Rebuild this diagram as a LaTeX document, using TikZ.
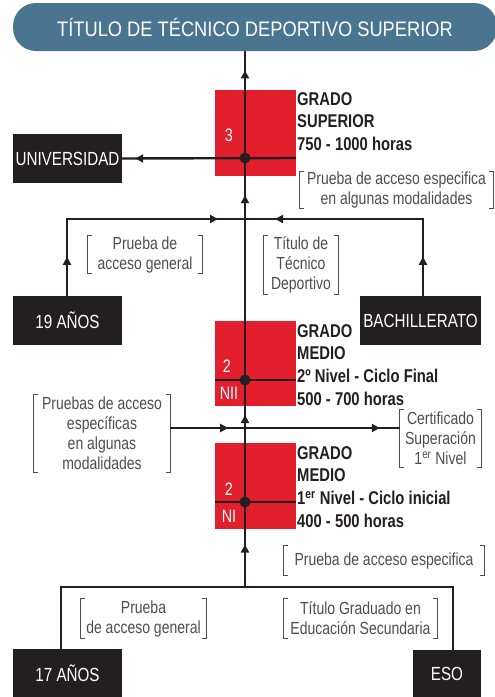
\documentclass[tikz,border=0pt]{standalone}
\usepackage{fontspec}
\setmainfont{Liberation Sans}[FakeStretch=0.8]
\newfontfamily\titlefont{Liberation Sans}[FakeStretch=0.87]
\usetikzlibrary{arrows.meta}
\usetikzlibrary{decorations.markings}

\definecolor{ink}{HTML}{231F20}
\definecolor{gradored}{HTML}{E41F2D}
\definecolor{titleblue}{HTML}{4A7591}
\definecolor{brkgray}{HTML}{4D4D4F}

\tikzset{
  flow/.style={draw=ink,line width=2.4pt},
  tipat/.style={postaction={decorate},decoration={markings,
      mark=at position #1 with {\arrow{Triangle[length=8pt,width=8pt]}}}},
  twotips/.style 2 args={postaction={decorate},decoration={markings,
      mark=at position #1 with {\arrow{Triangle[length=8pt,width=8pt]}},
      mark=at position #2 with {\arrow{Triangle[length=8pt,width=8pt]}}}},
  blackbox/.style={fill=ink,text=white,inner sep=0pt,font=\fontsize{19}{19}\selectfont},
  redbox/.style={fill=gradored,minimum width=81pt,minimum height=86pt,inner sep=0pt},
  redlbl/.style={text=white,inner sep=0pt,font=\fontsize{18}{18}\selectfont},
  gradotxt/.style={anchor=north west,align=left,inner sep=0pt,text=ink,
      font=\fontsize{18.5}{22.7}\selectfont\bfseries},
  brktxt/.style={inner sep=0pt,align=center,text=brkgray,font=\fontsize{17.5}{20}\selectfont},
  brkline/.style={draw=brkgray,line width=0.9pt},
}

\newcommand\brkpair[1]{%
  \draw[brkline] ([xshift=4pt]#1.north west) -- (#1.north west) -- (#1.south west) -- ([xshift=4pt]#1.south west);
  \draw[brkline] ([xshift=-4pt]#1.north east) -- (#1.north east) -- (#1.south east) -- ([xshift=-4pt]#1.south east);}

\begin{document}
\begin{tikzpicture}[x=1pt,y=-1pt]
  \useasboundingbox (0,0) rectangle (495,697);
  %% title
  \node[fill=titleblue,rounded corners=23pt,minimum width=484pt,minimum height=48pt,
        text=white,font=\titlefont\fontsize{21}{21}\selectfont] (title) at (255,27)
        {TÍTULO DE TÉCNICO DEPORTIVO SUPERIOR};
  %% red level boxes
  \node[redbox] (rsup) at (255.5,133) {};
  \node[redbox,minimum height=85pt] (rnii) at (255.5,363.5) {};
  \node[redbox] (rni) at (255.5,486) {};
  %% black boxes
  \node[blackbox,minimum width=109pt,minimum height=49pt] (univ) at (67.5,158.5) {UNIVERSIDAD};
  \node[blackbox,minimum width=109pt,minimum height=49pt] (age19) at (67.5,320.5) {19 AÑOS};
  \node[blackbox,minimum width=121pt,minimum height=49pt] (bach) at (420.5,320.5) {BACHILLERATO};
  \node[blackbox,minimum width=109pt,minimum height=48pt] (age17) at (67.5,673) {17 AÑOS};
  \node[blackbox,minimum width=68pt,minimum height=47pt] (eso) at (447,673.5) {ESO};
  %% bracketed notes
  \node[brktxt,minimum width=193pt,minimum height=36pt] (pacc3) at (396.5,190)
        {Prueba de acceso especifica\\en algunas modalidades};
  \node[brktxt,minimum width=114pt,minimum height=37pt] (pgen19) at (145,254.5)
        {Prueba de\\acceso general};
  \node[brktxt,minimum width=74pt,minimum height=58pt] (titdep) at (301,265)
        {Título de\\Técnico\\Deportivo};
  \node[brktxt,minimum width=136pt,minimum height=77pt] (pesp2) at (102,433.5)
        {Pruebas de acceso\\específicas\\en algunas\\modalidades};
  \node[brktxt,minimum width=81pt,minimum height=57pt] (cert) at (440.5,438.5)
        {Certificado\\Superación\\1\textsuperscript{er} Nivel};
  \node[brktxt,minimum width=200pt,minimum height=29pt] (pacc1) at (384,560.5)
        {Prueba de acceso especifica};
  \node[brktxt,minimum width=125pt,minimum height=39pt] (pgen17) at (143.5,618.5)
        {Prueba\\de acceso general};
  \node[brktxt,minimum width=153pt,minimum height=39pt] (titges) at (360.5,618.5)
        {Título Graduado en\\Educación Secundaria};
  \brkpair{pacc3}
  \brkpair{pgen19}
  \brkpair{titdep}
  \brkpair{pesp2}
  \brkpair{cert}
  \brkpair{pacc1}
  \brkpair{pgen17}
  \brkpair{titges}
  %% junctions on the main line
  \coordinate (d3) at (245,158);
  \coordinate (j19) at (245,219);
  \coordinate (d2) at (245,380);
  \coordinate (jmid) at (245,428);
  \coordinate (d1) at (245,502);
  \coordinate (jbot) at (245,587);
  \coordinate (c19) at (67,219);
  \coordinate (cbach) at (423,219);
  \coordinate (c17) at (61,587);
  \coordinate (ceso) at (453,587);
  %% main line
  \draw[flow,tipat=0.5] (jbot) -- (d1);
  \draw[flow] (d1) -- (jmid);
  \draw[flow,tipat=0.27] (jmid) -- (d2);
  \draw[flow] (d2) -- (j19);
  \draw[flow,tipat=0.39] (j19) -- (d3);
  \draw[flow,tipat=0.82] (d3) -- (d3 |- title.south);
  %% side branches
  \draw[flow,tipat={-13pt}] (rsup.east |- d3) -- (univ.east);
  \draw[flow,twotips={39pt}{-27pt}] (c19 |- age19.north) -- (c19) -- (j19);
  \draw[flow,twotips={39pt}{-30pt}] (cbach |- bach.north) -- (cbach) -- (j19);
  \draw[flow,twotips={58pt}{-20pt}] (pesp2.east |- jmid) -- (cert.west |- jmid);
  \draw[flow] (rnii.west |- d2) -- (rnii.east |- d2);
  \draw[flow] (rni.west |- d1) -- (rni.east |- d1);
  \draw[flow] (c17 |- age17.north) -- (c17) -- (ceso) -- (ceso |- eso.north);
  \fill[ink] (d3) circle (5.5pt);
  \fill[ink] (d2) circle (5.5pt);
  \fill[ink] (d1) circle (5.5pt);
  %% level labels
  \node[redlbl] (n3) at (229,135) {3};
  \node[redlbl] (n2b) at (227,366) {2};
  \node[redlbl] (nii) at (229,393) {NII};
  \node[redlbl] (n2a) at (229,489) {2};
  \node[redlbl] (ni) at (229,516) {NI};
  \node[gradotxt] (gsup) at (297,92) {GRADO\\SUPERIOR\\750 - 1000 horas};
  \node[gradotxt] (gmed2) at (297,324) {GRADO\\MEDIO\\2º Nivel - Ciclo Final\\500 - 700 horas};
  \node[gradotxt] (gmed1) at (297,446) {GRADO\\MEDIO\\1\textsuperscript{er} Nivel - Ciclo inicial\\400 - 500 horas};
\end{tikzpicture}
\end{document}
